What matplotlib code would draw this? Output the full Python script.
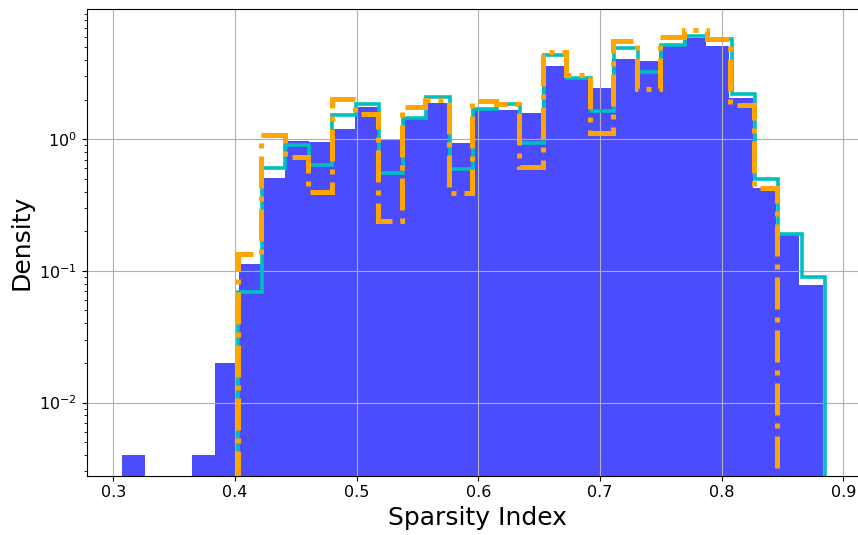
import matplotlib
matplotlib.use("Agg")
import matplotlib.pyplot as plt
import numpy as np

# density per bin
BLUE_RANGE = (0.3069, 0.8830)
BLUE_DENSITY = [0.004, 0.0, 0.0, 0.004, 0.020, 0.113, 0.507, 0.976, 0.960, 1.19,
                1.75, 0.99, 1.44, 1.87, 0.94, 1.66, 1.66, 1.57, 3.59, 2.95,
                2.43, 4.10, 3.94, 5.18, 5.82, 5.09, 2.07, 0.425, 0.186, 0.078]

CYAN_RANGE = (0.4027, 0.8852)
CYAN_DENSITY = [0.069, 0.603, 0.905, 0.639, 1.53, 1.84, 0.558, 1.44, 2.10, 0.593,
                1.69, 1.84, 0.933, 4.35, 2.90, 1.65, 4.89, 3.25, 5.18, 6.05,
                5.72, 2.20, 0.500, 0.192, 0.090]

ORANGE_RANGE = (0.4022, 0.8457)
ORANGE_DENSITY = [0.135, 1.08, 0.73, 0.394, 2.02, 1.55, 0.240, 1.75, 1.98, 0.390,
                  1.95, 1.85, 0.620, 4.56, 3.07, 1.11, 5.57, 2.40, 5.93, 6.73,
                  5.72, 1.82, 0.425]

X_TICKS = [0.3, 0.4, 0.5, 0.6, 0.7, 0.8, 0.9]


def _edges(rng, values):
        return np.linspace(rng[0], rng[1], len(values) + 1)


def main() -> None:
        fig = plt.figure(figsize=(8.58, 5.35), dpi=100)
        # the source image was cropped on the right, so the axes run past the edge
        ax = fig.add_axes([0.101, 0.1108, 0.91, 0.8724])
        ax.spines["right"].set_visible(False)

        series = [
                (BLUE_RANGE, BLUE_DENSITY, dict(histtype="bar", color="blue", alpha=0.7)),
                (CYAN_RANGE, CYAN_DENSITY, dict(histtype="step", color="c", lw=2.6)),
                (ORANGE_RANGE, ORANGE_DENSITY, dict(histtype="step", color="orange", lw=3.6, ls="-.")),
        ]
        for rng, values, style in series:
                edges = _edges(rng, values)
                centers = (edges[:-1] + edges[1:]) / 2
                ax.hist(centers, bins=edges, weights=values, log=True, **style)

        ax.set_xlim(0.2781, 0.9197)
        ax.set_ylim(0.00278, 9.75)
        ax.set_xticks(X_TICKS)
        ax.tick_params(labelsize=11.5)
        ax.set_xlabel("Sparsity Index", fontsize=18)
        ax.set_ylabel("Density", fontsize=18)
        ax.grid(True)

        fig.savefig("out.png", dpi=100)
        plt.close(fig)


if __name__ == "__main__":
        main()
